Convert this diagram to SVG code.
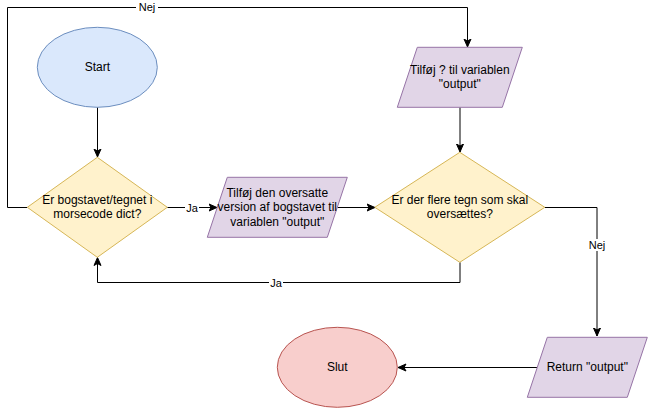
<svg xmlns="http://www.w3.org/2000/svg" width="649" height="408" viewBox="0 0 649 408">
<style>
text{font-family:"Liberation Sans",Arial,sans-serif;font-size:12px;fill:#000;text-anchor:middle;dominant-baseline:central}
.lbl{font-size:11px}
.lb{fill:#fff}
.edge{fill:none;stroke:#000;stroke-width:1;marker-end:url(#arr)}
.blue{fill:#dae8fc;stroke:#6c8ebf}
.yel{fill:#fff2cc;stroke:#d6b656}
.pur{fill:#e1d5e7;stroke:#9673a6}
.red{fill:#f8cecc;stroke:#b85450}
</style>
<defs>
<marker id="arr" markerUnits="userSpaceOnUse" markerWidth="9" markerHeight="9" viewBox="0 0 9 9" refX="8.5" refY="4.5" orient="auto">
<path d="M0.5,1 L8.5,4.5 L0.5,8 L2.5,4.5 Z" fill="#000" stroke="#000" stroke-width="1"/>
</marker>
</defs>
<rect width="649" height="408" fill="#fff"/>
<g id="connectors">
<path class="edge" d="M97.5,107.3 L97.5,157"/>
<path class="edge" d="M27.3,207.5 L7.5,207.5 L7.5,7.5 L467.5,7.5 L467.5,47"/>
<path class="edge" d="M167.3,207.5 L217,207.5"/>
<path class="edge" d="M337.5,207.5 L375,207.5"/>
<path class="edge" d="M460,107.3 L460,152"/>
<path class="edge" d="M460,262.3 L460,282.5 L97.5,282.5 L97.5,257.5"/>
<path class="edge" d="M544.5,207.5 L597,207.5 L597,336"/>
<path class="edge" d="M537,367.5 L398,367.5"/>
<rect class="lb" x="136" y="1" width="22" height="12"/>
<text class="lbl" x="147" y="7">Nej</text>
<rect class="lb" x="185" y="201" width="14" height="12"/>
<text class="lbl" x="192" y="207.5">Ja</text>
<rect class="lb" x="269" y="276" width="14" height="12"/>
<text class="lbl" x="276" y="282.5">Ja</text>
<rect class="lb" x="586" y="239" width="22" height="12"/>
<text class="lbl" x="597" y="245">Nej</text>
</g>
<g id="start">
<ellipse class="blue" cx="97.3" cy="67.3" rx="60" ry="40"/>
<text x="97.3" y="67.3">Start</text>
</g>
<g id="check-dict">
<polygon class="yel" points="97.3,157.3 167.3,207.3 97.3,257.3 27.3,207.3"/>
<text x="97.3" y="200.3">Er bogstavet/tegnet i</text>
<text x="97.3" y="214.3">morsecode dict?</text>
</g>
<g id="add-translated">
<polygon class="pur" points="227.3,177.3 347.3,177.3 327.3,237.3 207.3,237.3"/>
<text x="277.3" y="193">Tilføj den oversatte</text>
<text x="277.3" y="207.3">version af bogstavet til</text>
<text x="277.3" y="221.6">variablen "output"</text>
</g>
<g id="add-question">
<polygon class="pur" points="417.3,47.3 522.3,47.3 502.3,107.3 397.3,107.3"/>
<text x="459.8" y="70.3">Tilføj ? til variablen</text>
<text x="459.8" y="84.3">"output"</text>
</g>
<g id="more-chars">
<polygon class="yel" points="459.8,152.3 544.8,207.3 459.8,262.3 374.8,207.3"/>
<text x="459.8" y="200.3">Er der flere tegn som skal</text>
<text x="459.8" y="214.3">oversættes?</text>
</g>
<g id="return">
<polygon class="pur" points="547.3,337.3 647.3,337.3 627.3,397.3 527.3,397.3"/>
<text x="587.3" y="367.3">Return "output"</text>
</g>
<g id="slut">
<ellipse class="red" cx="337.3" cy="367.3" rx="60" ry="40"/>
<text x="337.3" y="367.3">Slut</text>
</g>
</svg>
